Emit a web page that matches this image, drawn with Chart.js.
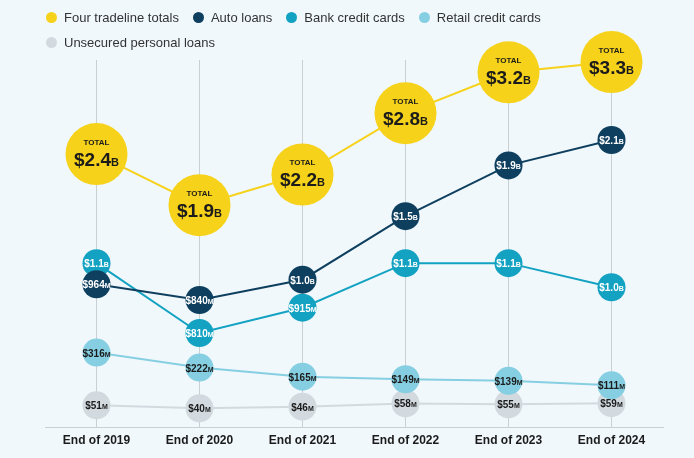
<!DOCTYPE html>
<html>
<head>
<meta charset="utf-8">
<script src="https://cdn.jsdelivr.net/npm/chart.js@4.4.0/dist/chart.umd.min.js"></script>
<style>
  html, body { margin: 0; padding: 0; background: #f0f8fc; }
  #wrap { position: relative; width: 694px; height: 458px; }
  #legend { position: absolute; left: 46px; top: 5px; width: 560px; font-family: Arial, "Liberation Sans", sans-serif; font-size: 13px; color: #333; line-height: 25px; }
  #legend span.item { display: inline-block; margin-right: 14px; }
  #legend i { display: inline-block; width: 11px; height: 11px; border-radius: 50%; margin-right: 7px; vertical-align: -1px; }
</style>
</head>
<body>
<div id="wrap">
  <div id="legend"></div>
  <canvas id="chart" width="694" height="458"></canvas>
</div>
<script>
// Values in millions of dollars
const categories = ['End of 2019', 'End of 2020', 'End of 2021', 'End of 2022', 'End of 2023', 'End of 2024'];
const totals = [2400, 1900, 2200, 2800, 3200, 3300];
const autoLoans = [964, 840, 1000, 1500, 1900, 2100];
const bankCards = [1100, 810, 915, 1100, 1100, 1000];
const retailCards = [316, 222, 165, 149, 139, 111];
const personalLoans = [51, 40, 46, 58, 55, 59];

const seriesNames = ['Four tradeline totals', 'Auto loans', 'Bank credit cards', 'Retail credit cards', 'Unsecured personal loans'];
const seriesColors = ['#f6d21b', '#0f3f5f', '#14a2c2', '#86cfe2', '#d2dadf'];

// Legend
const legendEl = document.getElementById('legend');
seriesNames.forEach((name, i) => {
    const s = document.createElement('span');
    s.className = 'item';
    s.innerHTML = '<i style="background:' + seriesColors[i] + '"></i>' + name;
    legendEl.appendChild(s);
    if (i === 3) legendEl.appendChild(document.createElement('br'));
});

function splitValue(v) {
    if (v >= 1000) return ['$' + (v / 1000).toFixed(1), 'B'];
    return ['$' + v, 'M'];
}

// Draw value text inside each point
const pointLabels = {
    id: 'pointLabels',
    afterDatasetsDraw(chart) {
        const ctx = chart.ctx;
        ctx.save();
        ctx.textBaseline = 'alphabetic';
        chart.data.datasets.forEach((ds, di) => {
            const meta = chart.getDatasetMeta(di);
            meta.data.forEach((pt, i) => {
                const parts = splitValue(ds.data[i]);
                const big = di === 0;
                const mainFont = big ? 'bold 19px Arial, "Liberation Sans"' : 'bold 10px Arial, "Liberation Sans"';
                const subFont = big ? 'bold 11px Arial, "Liberation Sans"' : 'bold 7px Arial, "Liberation Sans"';
                ctx.font = mainFont;
                const w1 = ctx.measureText(parts[0]).width;
                ctx.font = subFont;
                const w2 = ctx.measureText(parts[1]).width;
                const x0 = pt.x - (w1 + w2) / 2;
                const yBase = big ? pt.y + 12 : pt.y + 4;
                ctx.fillStyle = ds.labelColor;
                ctx.textAlign = 'left';
                ctx.font = mainFont;
                ctx.fillText(parts[0], x0, yBase);
                ctx.font = subFont;
                ctx.fillText(parts[1], x0 + w1, yBase);
                if (big) {
                    ctx.font = 'bold 8px Arial, "Liberation Sans"';
                    ctx.textAlign = 'center';
                    ctx.fillText('TOTAL', pt.x, pt.y - 9);
                }
            });
        });
        ctx.restore();
    }
};

function lineSet(label, data, color, axis, radius, labelColor, order) {
    return {
        label: label,
        data: data,
        yAxisID: axis,
        order: order,
        clip: false,
        borderColor: color,
        backgroundColor: color,
        pointBackgroundColor: color,
        pointBorderWidth: 0,
        pointRadius: radius,
        pointHoverRadius: radius,
        borderWidth: 2,
        tension: 0,
        labelColor: labelColor
    };
}

const hiddenAxis = (min, max) => ({ display: false, min: min, max: max });

new Chart(document.getElementById('chart').getContext('2d'), {
    type: 'line',
    data: {
        labels: categories,
        datasets: [
            lineSet(seriesNames[0], totals, seriesColors[0], 'yTot', 31, '#1b1b1b', 5),
            lineSet(seriesNames[1], autoLoans, seriesColors[1], 'yAuto', 14, '#ffffff', 1),
            lineSet(seriesNames[2], bankCards, seriesColors[2], 'yBank', 14, '#ffffff', 2),
            lineSet(seriesNames[3], retailCards, seriesColors[3], 'yRetail', 14, '#1b1b1b', 3),
            lineSet(seriesNames[4], personalLoans, seriesColors[4], 'yPersonal', 14, '#1b1b1b', 4)
        ]
    },
    options: {
        responsive: false,
        animation: false,
        layout: { padding: { left: 45, right: 24, top: 60, bottom: 2 } },
        plugins: {
            legend: { display: false },
            tooltip: { enabled: false }
        },
        scales: {
            x: {
                offset: true,
                grid: { color: '#c9d0d4', lineWidth: 1, drawTicks: false, offset: false },
                border: { color: '#c9d0d4' },
                ticks: {
                    color: '#1b1b1b',
                    padding: 6,
                    font: { family: 'Arial, "Liberation Sans"', size: 12, weight: 'bold' }
                }
            },
            yAuto: hiddenAxis(-160, 2730),
            yBank: hiddenAxis(420, 1943),
            yTot: hiddenAxis(-270, 3320),
            yRetail: hiddenAxis(-150, 2148),
            yPersonal: hiddenAxis(-30, 1340)
        }
    },
    plugins: [pointLabels]
});
</script>
</body>
</html>
